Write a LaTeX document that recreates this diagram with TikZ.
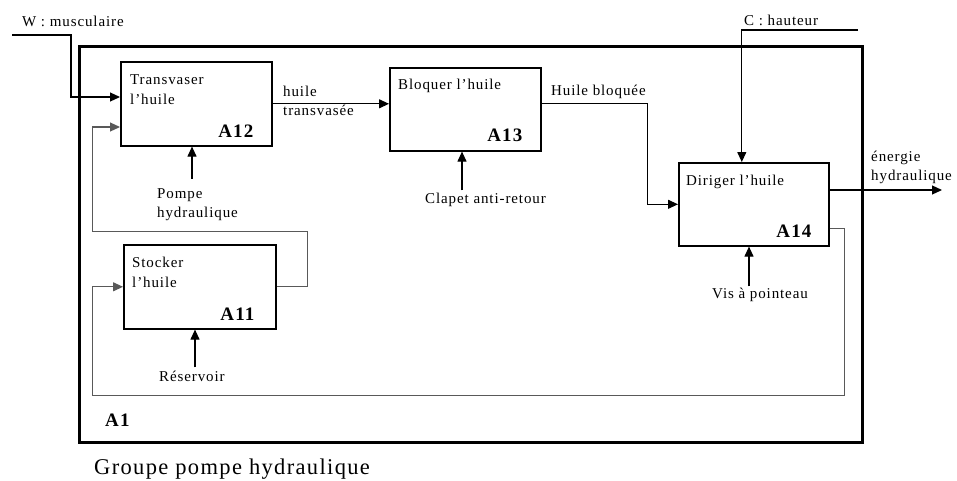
\documentclass[tikz,border=0pt]{standalone}
\usepackage{fontspec}
\setmainfont{Liberation Serif}[LetterSpace=6]
\usetikzlibrary{positioning}
\usetikzlibrary{calc}
\usetikzlibrary{arrows.meta}
\tikzset{
    % Filled triangular tips, as in the SADT sheets
    >={Triangle[length=10pt,width=9pt]},
%
    % One activity of the A1 breakdown
    activity box/.style={
        draw, line width=1.6pt, rectangle, anchor=north west,
        minimum width=151pt, minimum height=84pt, inner sep=0},
%
    % Name of the activity, top left of its box (base = last line)
    activity text/.style={anchor=base west, align=left, inner sep=0,
        font=\fontsize{15}{20}\selectfont},
%
    % Node number, bottom right of its box
    activity code/.style={anchor=base east, inner sep=0,
        font=\fontsize{19}{22}\selectfont\bfseries},
%
    % Labels of flows and supports
    flow label/.style={align=left, anchor=base west, inner sep=0,
        font=\fontsize{15}{19}\selectfont},
%
    % Plain data flow
    flow/.style={line width=1.1pt},
    % Loop back flows, drawn a bit lighter
    return flow/.style={line width=1.1pt, draw=black!65}}

\begin{document}
\begin{tikzpicture}[x=1pt, y=-1pt]

\useasboundingbox (0,0) rectangle (957,480);

% Frame of A1

\path [draw, line width=3pt] (79,46) rectangle (862,442);

\node [activity code, anchor=base west] (a1) at (105,426) {A1};

\node [anchor=base west, inner sep=0, font=\fontsize{22.5}{26}\selectfont]
    (title) at (94,474) {Groupe pompe hydraulique};

% Activities

\node [activity box] (a12) at (120,61) {};
\node [activity box, minimum height=83pt] (a13) at (389,67) {};
\node [activity box, minimum width=150pt, minimum height=83pt] (a14) at (678,162) {};
\node [activity box, minimum width=152pt] (a11) at (123,244) {};

\node [activity text] at ($(a12.north west)+(10,43)$) {Transvaser\\l'huile};
\node [activity text] at ($(a13.north west)+(9,22)$) {Bloquer l'huile};
\node [activity text] at ($(a14.north west)+(8,23)$) {Diriger l'huile};
\node [activity text] at ($(a11.north west)+(9,43)$) {Stocker\\l'huile};

\node [activity code] at ($(a12.south east)+(-19,-9)$) {A12};
\node [activity code] at ($(a13.south east)+(-19,-10)$) {A13};
\node [activity code] at ($(a14.south east)+(-18,-9)$) {A14};
\node [activity code] at ($(a11.south east)+(-22,-9)$) {A11};

% Inputs and controls from outside

\coordinate (w in) at (12,35);
\node [flow label] (w) at (22,26) {W : musculaire};
\path [draw, flow, ->] (w in) -- ++(59,0) |- ($(a12.north west)+(0,36)$);

\coordinate (c in) at (858,30);
\node [flow label] (c) at (744,25) {C : hauteur};
\path [draw, flow, ->] (c in) -| ($(a14.north)+(-12,0)$);

\coordinate (e out) at (942,190);
\node [flow label] (energie) at (871,180) {énergie\\hydraulique};
\path [draw, flow, ->] ($(a14.north east)+(0,28)$) -- (e out);

% Flows between activities

\path [draw, flow, ->] (a12.east) -- (a12.east -| a13.west);
\node [flow label] (transvasee) at (283,115) {huile\\transvasée};

\path [draw, flow, ->] (a13.east |- a12.east) -- ++(106,0) |- (a14.west);
\node [flow label] (bloquee) at (551,95) {Huile bloquée};

\path [draw, return flow, ->] (a11.east) -- ++(31,0) |- ++(-215,-55)
    |- ($(a12.north west)+(0,66)$);

\path [draw, return flow, ->] ($(a14.south east)+(0,-18)$) -- ++(15,0)
    |- ++(-752,167) |- (a11.west);

% Supports

\node [flow label] (pompe) at (157,217) {Pompe\\hydraulique};
\path [draw, flow, ->] ($(pompe.north west)+(35,-9)$) coordinate (p)
    -- (p |- a12.south);

\node [flow label] (clapet) at (425,203) {Clapet anti-retour};
\path [draw, flow, ->] ($(clapet.north west)+(37,-2)$) coordinate (q)
    -- (q |- a13.south);

\node [flow label] (vis) at (712,298) {Vis à pointeau};
\path [draw, flow, ->] ($(vis.north west)+(37,-1)$) coordinate (r)
    -- (r |- a14.south);

\node [flow label] (reservoir) at (159,381) {Réservoir};
\path [draw, flow, ->] ($(reservoir.north west)+(36,-3)$) coordinate (s)
    -- (s |- a11.south);

\end{tikzpicture}
\end{document}
